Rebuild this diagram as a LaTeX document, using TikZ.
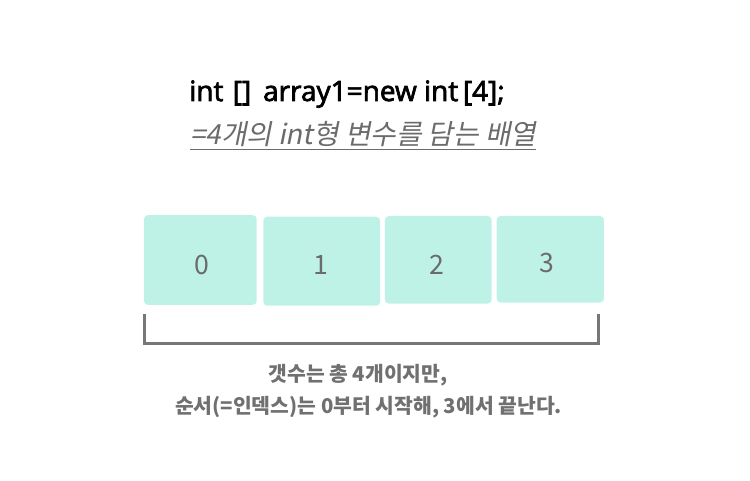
\documentclass[tikz,border=0pt]{standalone}
\usepackage{fontspec}
\usepackage{xcolor}
\usepackage{tikz}
\usetikzlibrary{positioning,calc}
\setmainfont{Noto Sans CJK KR}
\newfontfamily\titlefont[FakeBold=2.5]{Open Sans}
\newfontfamily\slantfont[FakeSlant=0.2]{Noto Sans CJK KR}
\definecolor{cellmint}{HTML}{BFF2E6}
\definecolor{textgrey}{HTML}{6B6B6B}
\definecolor{notegrey}{HTML}{707070}
\definecolor{bracketgrey}{HTML}{777777}

\begin{document}
\begin{tikzpicture}[
    x=0.75pt, y=-0.75pt,
    cell/.style={rectangle, fill=cellmint, rounded corners=3pt, inner sep=0pt},
    digit/.style={text=textgrey, font=\fontsize{20}{23}\selectfont},
    note/.style={anchor=base, text=notegrey, font=\bfseries\fontsize{15.3}{18}\selectfont},
    bracket/.style={draw=bracketgrey, line width=2.2pt}
]
    \useasboundingbox (0,0) rectangle (750,481);

    % Declaration
    \node[anchor=base west, inner sep=0pt, font=\titlefont\fontsize{21}{24}\selectfont] (decl) at (189,101) {int\,\,[]\, array1=new int\,[4];};
    \node[anchor=base west, inner sep=0pt, text=textgrey, font=\slantfont\fontsize{20.8}{24}\selectfont] (desc) at (190,145) {=4개의 int형 변수를 담는 배열};
    \draw[textgrey, line width=0.8pt] (desc.south west |- 0,149.5) -- (desc.south east |- 0,149.5);

    % Array cells
    \node[cell, minimum width=84.5pt, minimum height=67.3pt] (c0) at (200.3,260) {};
    \node[cell, minimum width=87.5pt, minimum height=66.8pt] (c1) at (321.7,261.2) {};
    \node[cell, minimum width=80pt, minimum height=65.8pt] (c2) at (438.3,259.8) {};
    \node[cell, minimum width=80.5pt, minimum height=65pt] (c3) at (550.3,259.3) {};

    \node[digit] (d0) at (201.7,264.5) {0};
    \node[digit] (d1) at (321,264.5) {1};
    \node[digit] (d2) at (437,264.5) {2};
    \node[digit] (d3) at (547,263) {3};

    % Bracket
    \coordinate (bl) at (144.7,314.3);
    \coordinate (br) at (598.3,314.3);
    \draw[bracket] (bl) -- ++(0,29) -| (br);

    % Note
    \node[note] (n1) at (358,381) {갯수는 총 4개이지만,};
    \node[note] (n2) at (368.5,413) {순서(=인덱스)는 0부터 시작해, 3에서 끝난다.};
\end{tikzpicture}
\end{document}
